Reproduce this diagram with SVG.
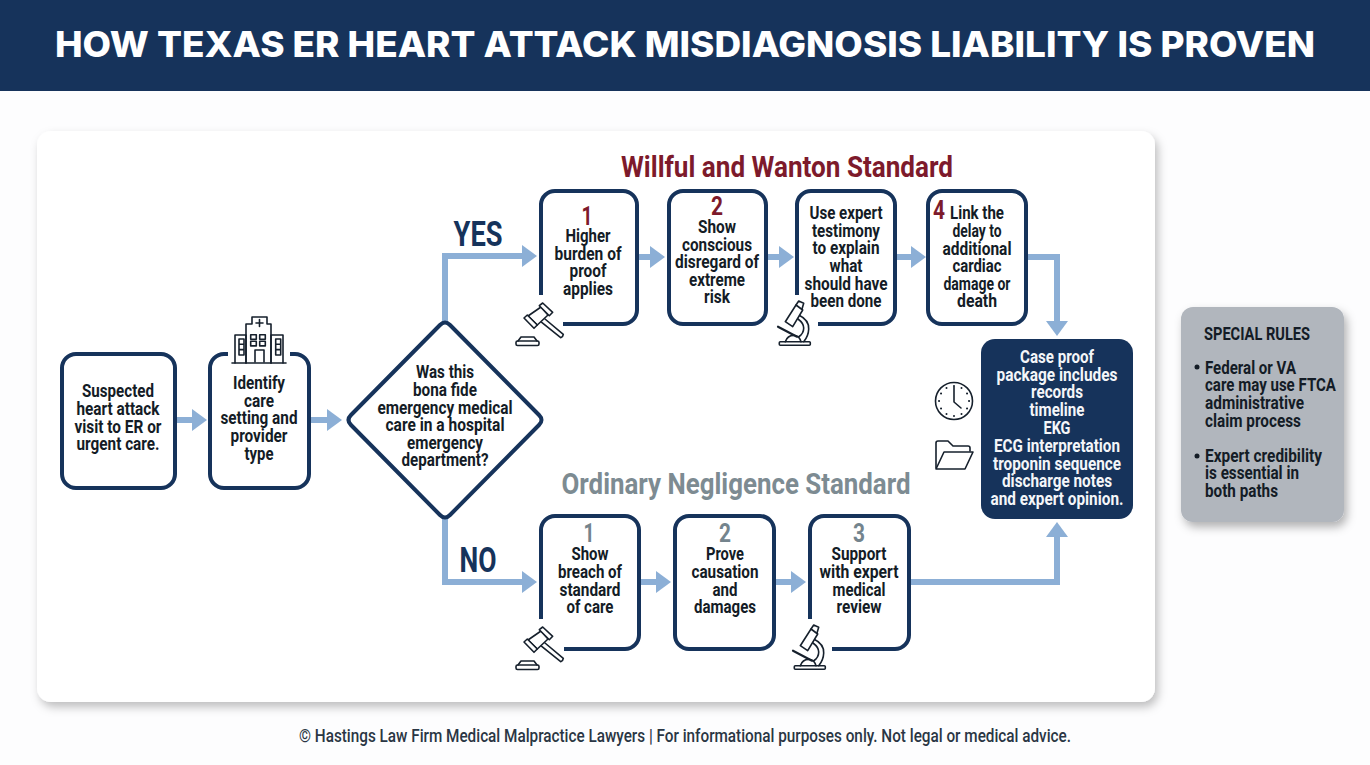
<svg xmlns="http://www.w3.org/2000/svg" xmlns:xlink="http://www.w3.org/1999/xlink" width="1370" height="765" viewBox="0 0 1370 765">
<style>
text{font-family:Roboto,"Liberation Sans",sans-serif;font-weight:700}
.t{font-size:18px;fill:#141c26;text-anchor:middle}
.w{font-size:18px;fill:#f4f6f9;text-anchor:middle}
.l{font-size:18px;fill:#141c26}
.nm{font-size:26px;fill:#7d1a2b;text-anchor:middle}
.ng{font-size:26px;fill:#74848d;text-anchor:middle}
.box{fill:#fff;stroke:#16335b;stroke-width:4}
.open{fill:none;stroke:#16335b;stroke-width:4;stroke-linecap:butt}
.conn{fill:none;stroke:#8cafd6;stroke-width:6}
.icon{fill:none;stroke:#16202c;stroke-width:1.6;stroke-linejoin:round;stroke-linecap:round}
</style>
<defs>
<marker id="arrow" markerUnits="userSpaceOnUse" markerWidth="16" markerHeight="24" refX="0" refY="12" orient="auto">
<path d="M0 1L15 12L0 23Z" fill="#8cafd6"/>
</marker>
<filter id="sh" x="-5%" y="-5%" width="110%" height="110%"><feDropShadow dx="3" dy="5" stdDeviation="5" flood-color="#000" flood-opacity="0.25"/></filter>
<filter id="sh2" x="-15%" y="-15%" width="130%" height="130%"><feDropShadow dx="3" dy="5" stdDeviation="5" flood-color="#000" flood-opacity="0.3"/></filter>
<g id="gavel" class="icon">
<path d="M13 16L26 7L33 15L22.300 25Z" fill="#fff"/>
<path d="M9 18L12.300 15L22.300 25L19 28.300Z" fill="#fff"/>
<path d="M24.300 5.700L27.700 3L37.700 12.300L34.300 15.700Z" fill="#fff"/>
<path d="M30 19L48.300 34.300Q48 37 45.700 37.700L26.700 22.300"/>
<rect x="1" y="41" width="23" height="4.500" rx="1.500"/>
<path d="M3 41L6 37H19L22 41"/>
</g>
<g id="scope" class="icon">
<rect x="1.300" y="41.700" width="31" height="3.500" rx="1"/>
<path d="M20.700 15C27 18 31 23 30.700 29C30.500 35 28 39 25.700 41.700"/>
<path d="M20 19C24 22 25.700 25 25.700 28C25.700 32 23.500 35 20.700 36.700"/>
<path d="M7.300 21.700L18 5L24.700 10L14.700 26.700Z" fill="#fff"/>
<path d="M18 5L20.700 1L25.700 3.300L24 9"/>
<path d="M0 26.700L19 36.700" stroke-width="2.200"/>
<path d="M7.300 41.700C9 37 13 35 17 35.500C20 36 22 38 23 41.700"/>
</g>
</defs>
<rect width="1370" height="765" fill="#fdfdfe"/>
<rect width="1370" height="91" fill="#16335b"/>
<text x="685" y="57" text-anchor="middle" font-size="35" textLength="1260" lengthAdjust="spacingAndGlyphs" style="font-family:Inter,'Liberation Sans',sans-serif;font-weight:800;fill:#fff">HOW TEXAS ER HEART ATTACK MISDIAGNOSIS LIABILITY IS PROVEN</text>
<rect id="panel" x="37" y="131" width="1118" height="571" rx="14" fill="#fff" filter="url(#sh)"/>

<text x="787" y="177" font-size="30" text-anchor="middle" fill="#7d1a2b" textLength="332" lengthAdjust="spacingAndGlyphs">Willful and Wanton Standard</text>
<text x="736" y="494" font-size="30" text-anchor="middle" fill="#7d8b92" textLength="349" lengthAdjust="spacingAndGlyphs">Ordinary Negligence Standard</text>
<text x="478" y="246" font-size="35" text-anchor="middle" fill="#16335b" textLength="49" lengthAdjust="spacingAndGlyphs">YES</text>
<text x="478" y="572" font-size="35" text-anchor="middle" fill="#16335b" textLength="37" lengthAdjust="spacingAndGlyphs">NO</text>

<g id="connectors" class="conn">
<path d="M175 420H192" marker-end="url(#arrow)"/>
<path d="M309 420H327" marker-end="url(#arrow)"/>
<path d="M445 322V256H522" marker-end="url(#arrow)"/>
<path d="M445 518V582H522" marker-end="url(#arrow)"/>
<path d="M638 257H650" marker-end="url(#arrow)"/>
<path d="M767 257H779" marker-end="url(#arrow)"/>
<path d="M896 257H911" marker-end="url(#arrow)"/>
<path d="M1027 257H1057V321" marker-end="url(#arrow)"/>
<path d="M640 582H656" marker-end="url(#arrow)"/>
<path d="M775 582H791" marker-end="url(#arrow)"/>
<path d="M910 582H1057V537" marker-end="url(#arrow)"/>
</g>

<g id="n-start"><rect class="box" x="62" y="354" width="113" height="134" rx="14"/>
<text class="t" x="118" y="397" textLength="72" lengthAdjust="spacingAndGlyphs">Suspected</text>
<text class="t" x="118" y="415" textLength="83" lengthAdjust="spacingAndGlyphs">heart attack</text>
<text class="t" x="118" y="433" textLength="87" lengthAdjust="spacingAndGlyphs">visit to ER or</text>
<text class="t" x="118" y="450" textLength="83" lengthAdjust="spacingAndGlyphs">urgent care.</text></g>

<g id="n-identify"><path class="box" d="M228 354H224A14 14 0 0 0 210 368V474A14 14 0 0 0 224 488H295A14 14 0 0 0 309 474V368A14 14 0 0 0 295 354H290"/>
<g class="icon">
<path d="M232 363H286"/>
<path d="M246 363V335H235V363M271 363V335H283V363"/>
<path d="M246 363V324H252V317H267V324H271V363"/>
<path d="M255 362V350H264V362"/>
<path d="M259.500 319.500V326.500M256 323H263"/>
<rect x="250.700" y="334.700" width="5.600" height="4.600"/><rect x="259.700" y="334.700" width="5.600" height="4.600"/>
<rect x="250.700" y="341.300" width="5.600" height="4.600"/><rect x="259.700" y="341.300" width="5.600" height="4.600"/>
<path d="M239 339H244V355H239ZM239 344.300H244M239 349.600H244M275.700 339H280.700V355H275.700ZM275.700 344.300H280.700M275.700 349.600H280.700"/>
</g>
<text class="t" x="259" y="389" textLength="52" lengthAdjust="spacingAndGlyphs">Identify</text>
<text class="t" x="259" y="407" textLength="30" lengthAdjust="spacingAndGlyphs">care</text>
<text class="t" x="259" y="424" textLength="77" lengthAdjust="spacingAndGlyphs">setting and</text>
<text class="t" x="259" y="442" textLength="57" lengthAdjust="spacingAndGlyphs">provider</text>
<text class="t" x="259" y="460" textLength="29" lengthAdjust="spacingAndGlyphs">type</text></g>

<g id="n-decision"><path class="box" d="M440 325Q445 320 450 325L539 415Q544 420 539 425L450 515Q445 520 440 515L351 425Q346 420 351 415Z"/>
<text class="t" x="445" y="378" textLength="58" lengthAdjust="spacingAndGlyphs">Was this</text>
<text class="t" x="445" y="396" textLength="64" lengthAdjust="spacingAndGlyphs">bona fide</text>
<text class="t" x="445" y="414" textLength="135" lengthAdjust="spacingAndGlyphs">emergency medical</text>
<text class="t" x="445" y="431" textLength="119" lengthAdjust="spacingAndGlyphs">care in a hospital</text>
<text class="t" x="445" y="449" textLength="76" lengthAdjust="spacingAndGlyphs">emergency</text>
<text class="t" x="445" y="466" textLength="87" lengthAdjust="spacingAndGlyphs">department?</text></g>

<g id="n-w1"><path class="open" d="M541 295V204A14 14 0 0 1 555 191H623A14 14 0 0 1 637 205V310A14 14 0 0 1 623 324H563" />
<use xlink:href="#gavel" href="#gavel" x="515" y="300"/>
<text class="nm" x="587" y="225" textLength="11" lengthAdjust="spacingAndGlyphs">1</text>
<text class="t" x="588" y="242" textLength="45" lengthAdjust="spacingAndGlyphs">Higher</text>
<text class="t" x="588" y="260" textLength="67" lengthAdjust="spacingAndGlyphs">burden of</text>
<text class="t" x="588" y="277" textLength="37" lengthAdjust="spacingAndGlyphs">proof</text>
<text class="t" x="588" y="295" textLength="50" lengthAdjust="spacingAndGlyphs">applies</text></g>

<g id="n-w2"><rect class="box" x="669" y="191" width="97" height="133" rx="14"/>
<text class="nm" x="717" y="215" textLength="12" lengthAdjust="spacingAndGlyphs">2</text>
<text class="t" x="717" y="233" textLength="38" lengthAdjust="spacingAndGlyphs">Show</text>
<text class="t" x="717" y="251" textLength="70" lengthAdjust="spacingAndGlyphs">conscious</text>
<text class="t" x="717" y="268" textLength="84" lengthAdjust="spacingAndGlyphs">disregard of</text>
<text class="t" x="717" y="286" textLength="56" lengthAdjust="spacingAndGlyphs">extreme</text>
<text class="t" x="717" y="303" textLength="26" lengthAdjust="spacingAndGlyphs">risk</text></g>

<g id="n-w3"><path class="open" d="M797 295V204A14 14 0 0 1 811 191H881A14 14 0 0 1 895 205V310A14 14 0 0 1 881 324H818"/>
<use xlink:href="#scope" href="#scope" x="778" y="300"/>
<text class="t" x="846" y="219" textLength="73" lengthAdjust="spacingAndGlyphs">Use expert</text>
<text class="t" x="846" y="237" textLength="68" lengthAdjust="spacingAndGlyphs">testimony</text>
<text class="t" x="846" y="254" textLength="67" lengthAdjust="spacingAndGlyphs">to explain</text>
<text class="t" x="846" y="272" textLength="33" lengthAdjust="spacingAndGlyphs">what</text>
<text class="t" x="846" y="290" textLength="83" lengthAdjust="spacingAndGlyphs">should have</text>
<text class="t" x="846" y="307" textLength="71" lengthAdjust="spacingAndGlyphs">been done</text></g>

<g id="n-w4"><rect class="box" x="928" y="191" width="98" height="133" rx="14"/>
<text class="nm" x="939" y="219" textLength="12" lengthAdjust="spacingAndGlyphs">4</text>
<text class="t" x="977" y="219" textLength="54" lengthAdjust="spacingAndGlyphs">Link the</text>
<text class="t" x="977" y="237" textLength="49" lengthAdjust="spacingAndGlyphs">delay to</text>
<text class="t" x="977" y="255" textLength="69" lengthAdjust="spacingAndGlyphs">additional</text>
<text class="t" x="977" y="272" textLength="49" lengthAdjust="spacingAndGlyphs">cardiac</text>
<text class="t" x="977" y="290" textLength="67" lengthAdjust="spacingAndGlyphs">damage or</text>
<text class="t" x="977" y="307" textLength="40" lengthAdjust="spacingAndGlyphs">death</text></g>

<g id="n-package"><rect x="981" y="339" width="152" height="180" rx="14" fill="#16335b"/>
<g class="icon"><circle cx="954" cy="401" r="18.500"/>
<path d="M954 387V402L961 408"/>
<path d="M954 386v.1M954 416v.1M939 401h.1M969 401h.1M946.500 388v.1M961.500 388v.1M946.500 414v.1M961.500 414v.1M941 393.500h.1M967 393.500h.1M941 408.500h.1M967 408.500h.1" stroke-width="2"/>
<path d="M936 468V443Q936 441 938 441H948L953 446H968Q970 446 970 448V451"/>
<path d="M936 469L944 452H973L965 469Z"/></g>
<text class="w" x="1057" y="363" textLength="74" lengthAdjust="spacingAndGlyphs">Case proof</text>
<text class="w" x="1057" y="381" textLength="121" lengthAdjust="spacingAndGlyphs">package includes</text>
<text class="w" x="1057" y="398" textLength="52" lengthAdjust="spacingAndGlyphs">records</text>
<text class="w" x="1057" y="416" textLength="55" lengthAdjust="spacingAndGlyphs">timeline</text>
<text class="w" x="1057" y="434" textLength="27" lengthAdjust="spacingAndGlyphs">EKG</text>
<text class="w" x="1057" y="452" textLength="126" lengthAdjust="spacingAndGlyphs">ECG interpretation</text>
<text class="w" x="1057" y="470" textLength="128" lengthAdjust="spacingAndGlyphs">troponin sequence</text>
<text class="w" x="1057" y="487" textLength="110" lengthAdjust="spacingAndGlyphs">discharge notes</text>
<text class="w" x="1057" y="505" textLength="133" lengthAdjust="spacingAndGlyphs">and expert opinion.</text></g>

<g id="n-o1"><path class="open" d="M541 619V530A14 14 0 0 1 555 516H625A14 14 0 0 1 639 530V635A14 14 0 0 1 625 649H564"/>
<use xlink:href="#gavel" href="#gavel" x="515" y="624"/>
<text class="ng" x="589" y="542" textLength="11" lengthAdjust="spacingAndGlyphs">1</text>
<text class="t" x="590" y="560" textLength="37" lengthAdjust="spacingAndGlyphs">Show</text>
<text class="t" x="590" y="578" textLength="64" lengthAdjust="spacingAndGlyphs">breach of</text>
<text class="t" x="590" y="596" textLength="61" lengthAdjust="spacingAndGlyphs">standard</text>
<text class="t" x="590" y="613" textLength="47" lengthAdjust="spacingAndGlyphs">of care</text></g>

<g id="n-o2"><rect class="box" x="675" y="516" width="99" height="133" rx="14"/>
<text class="ng" x="725" y="542" textLength="12" lengthAdjust="spacingAndGlyphs">2</text>
<text class="t" x="725" y="560" textLength="38" lengthAdjust="spacingAndGlyphs">Prove</text>
<text class="t" x="725" y="578" textLength="67" lengthAdjust="spacingAndGlyphs">causation</text>
<text class="t" x="725" y="596" textLength="25" lengthAdjust="spacingAndGlyphs">and</text>
<text class="t" x="725" y="613" textLength="62" lengthAdjust="spacingAndGlyphs">damages</text></g>

<g id="n-o3"><path class="open" d="M810 619V530A14 14 0 0 1 824 516H895A14 14 0 0 1 909 530V635A14 14 0 0 1 895 649H832"/>
<use xlink:href="#scope" href="#scope" x="793" y="624"/>
<text class="ng" x="859" y="542" textLength="12" lengthAdjust="spacingAndGlyphs">3</text>
<text class="t" x="859" y="560" textLength="55" lengthAdjust="spacingAndGlyphs">Support</text>
<text class="t" x="859" y="578" textLength="79" lengthAdjust="spacingAndGlyphs">with expert</text>
<text class="t" x="859" y="596" textLength="53" lengthAdjust="spacingAndGlyphs">medical</text>
<text class="t" x="859" y="613" textLength="45" lengthAdjust="spacingAndGlyphs">review</text></g>

<g id="n-rules"><rect x="1181" y="307" width="163" height="215" rx="12" fill="#b1b6bd" filter="url(#sh2)"/>
<text class="l" x="1204" y="340" textLength="106" lengthAdjust="spacingAndGlyphs">SPECIAL RULES</text>
<circle cx="1197" cy="367" r="2.500" fill="#141c26"/>
<text class="l" x="1205" y="374" textLength="91" lengthAdjust="spacingAndGlyphs">Federal or VA</text>
<text class="l" x="1205" y="391" textLength="131" lengthAdjust="spacingAndGlyphs">care may use FTCA</text>
<text class="l" x="1205" y="409" textLength="99" lengthAdjust="spacingAndGlyphs">administrative</text>
<text class="l" x="1205" y="427" textLength="96" lengthAdjust="spacingAndGlyphs">claim process</text>
<circle cx="1197" cy="456" r="2.500" fill="#141c26"/>
<text class="l" x="1205" y="462" textLength="117" lengthAdjust="spacingAndGlyphs">Expert credibility</text>
<text class="l" x="1205" y="479" textLength="94" lengthAdjust="spacingAndGlyphs">is essential in</text>
<text class="l" x="1205" y="497" textLength="73" lengthAdjust="spacingAndGlyphs">both paths</text></g>

<text x="685" y="742" font-size="18" text-anchor="middle" fill="#2a3644" textLength="772" lengthAdjust="spacingAndGlyphs" style="font-weight:500">© Hastings Law Firm Medical Malpractice Lawyers | For informational purposes only. Not legal or medical advice.</text>
</svg>
